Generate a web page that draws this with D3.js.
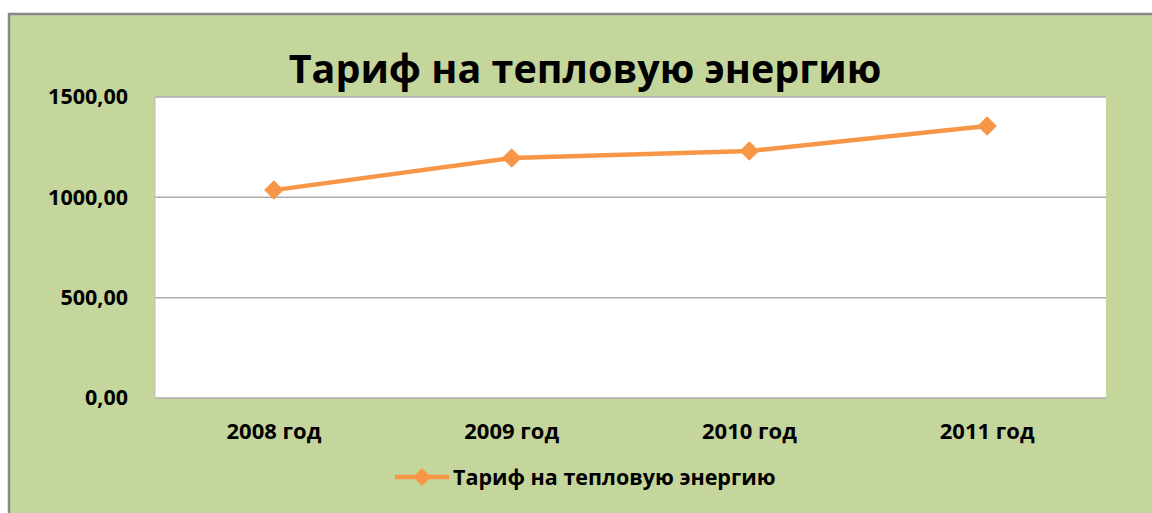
<!DOCTYPE html>
<html>
<head>
<meta charset="utf-8">
<script src="https://cdn.jsdelivr.net/npm/d3@7"></script>
<style>
  body { margin: 0; background: #fff; }
  text { font-family: "Open Sans", "Noto Sans", sans-serif; font-weight: bold; }
</style>
</head>
<body>
<div id="chart"></div>
<script>
// данные графика
var years = ["2008 год", "2009 год", "2010 год", "2011 год"];
var tariff = [1036, 1196, 1231, 1355];
var yTicks = [0, 500, 1000, 1500];
var seriesName = "Тариф на тепловую энергию";

var W = 1152, H = 513;
var margin = {top: 97, right: 46, bottom: 115, left: 155};
var width = W - margin.left - margin.right,
    height = H - margin.top - margin.bottom;

var svg = d3.select("#chart").append("svg")
    .attr("width", W).attr("height", H);

// фон диаграммы
svg.append("rect")
    .attr("x", 9).attr("y", 14)
    .attr("width", W + 10).attr("height", H + 10)
    .attr("fill", "#c4d69b")
    .attr("stroke", "#878787").attr("stroke-width", 2.5);

// заголовок
svg.append("text")
    .attr("x", 585).attr("y", 83)
    .attr("text-anchor", "middle")
    .style("font-size", "39.5px")
    .text(seriesName);

var g = svg.append("g")
    .attr("transform", "translate(" + margin.left + "," + margin.top + ")");

g.append("rect")
    .attr("width", width).attr("height", height)
    .attr("fill", "#fff");

var x = d3.scaleBand().domain(years).range([0, width]);
var y = d3.scaleLinear().domain([0, 1500]).range([height, 0]);

// сетка
g.selectAll(".grid")
    .data(yTicks)
    .enter().append("line")
    .attr("x1", 0).attr("x2", width)
    .attr("y1", function (d) { return y(d); })
    .attr("y2", function (d) { return y(d); })
    .attr("stroke", "#acacac").attr("stroke-width", 1.5);

g.append("line")
    .attr("x1", 0).attr("x2", 0).attr("y1", 0).attr("y2", height)
    .attr("stroke", "#bdbdbd").attr("stroke-width", 1);

// ось Y
var yAxis = g.append("g")
    .call(d3.axisLeft(y).tickValues(yTicks).tickSize(0).tickPadding(27)
        .tickFormat(function (d) { return d3.format(".2f")(d).replace(".", ","); }));
yAxis.select(".domain").remove();
yAxis.selectAll("text").style("font-size", "21.5px").attr("fill", "#000");

// ось X
var xAxis = g.append("g")
    .attr("transform", "translate(0," + height + ")")
    .call(d3.axisBottom(x).tickSize(0).tickPadding(25));
xAxis.select(".domain").remove();
xAxis.selectAll("text").style("font-size", "22px").attr("fill", "#000");

// линия
var line = d3.line()
    .x(function (d, i) { return x(years[i]) + x.bandwidth() / 2; })
    .y(function (d) { return y(d); });

g.append("path")
    .datum(tariff)
    .attr("d", line)
    .attr("fill", "none")
    .attr("stroke", "#f79646")
    .attr("stroke-width", 4.5);

var diamond = d3.symbol().type(d3.symbolSquare).size(190);

g.selectAll(".pt")
    .data(tariff)
    .enter().append("path")
    .attr("d", diamond)
    .attr("transform", function (d, i) {
        return "translate(" + (x(years[i]) + x.bandwidth() / 2) + "," + y(d) + ") rotate(45)";
    })
    .attr("fill", "#f79646");

// легенда
var leg = svg.append("g").attr("transform", "translate(395,477)");
leg.append("line")
    .attr("x1", 0).attr("x2", 54)
    .attr("stroke", "#f79646").attr("stroke-width", 4.5);
leg.append("path")
    .attr("d", d3.symbol().type(d3.symbolSquare).size(160))
    .attr("transform", "translate(27,0) rotate(45)")
    .attr("fill", "#f79646");
leg.append("text")
    .attr("x", 58).attr("y", 8)
    .style("font-size", "21.5px")
    .text(seriesName);
</script>
</body>
</html>
